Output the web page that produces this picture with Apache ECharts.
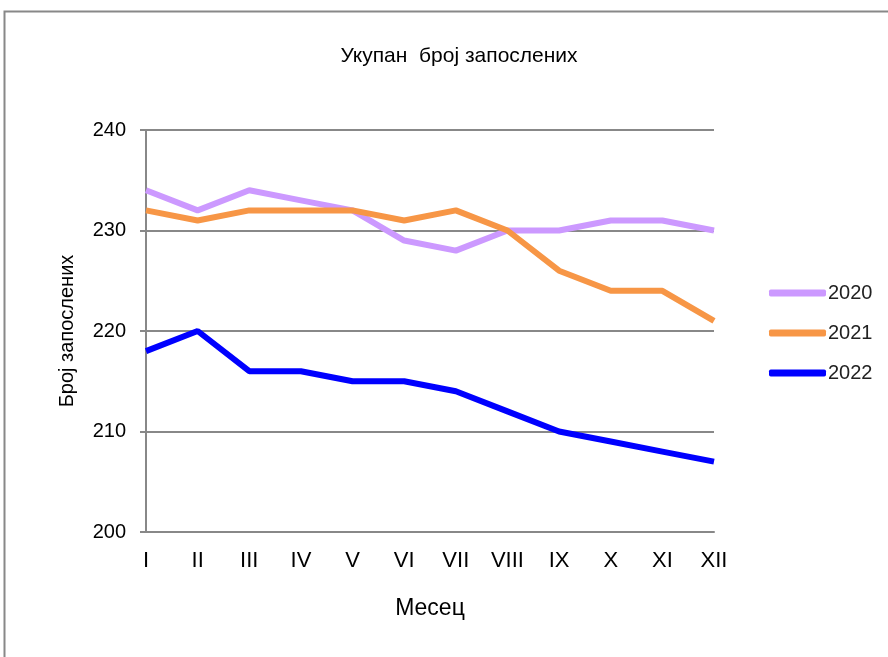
<!DOCTYPE html>
<html>
<head>
<meta charset="utf-8">
<script src="https://cdn.jsdelivr.net/npm/echarts@6/dist/echarts.min.js"></script>
<style>
  html, body { margin: 0; padding: 0; background: #fff; }
  #chart { width: 888px; height: 657px; }
</style>
</head>
<body>
<div id="chart"></div>
<script>
const months = ['I', 'II', 'III', 'IV', 'V', 'VI', 'VII', 'VIII', 'IX', 'X', 'XI', 'XII'];
const years = ['2020', '2021', '2022'];
const values2020 = [234, 232, 234, 233, 232, 229, 228, 230, 230, 231, 231, 230];
const values2021 = [232, 231, 232, 232, 232, 231, 232, 230, 226, 224, 224, 221];
const values2022 = [218, 220, 216, 216, 215, 215, 214, 212, 210, 209, 208, 207];
const colors = ['#cc99ff', '#f79646', '#0000ff'];

const font = '"Liberation Sans", Arial, sans-serif';
const chart = echarts.init(document.getElementById('chart'));

const seriesData = [values2020, values2021, values2022];

chart.setOption({
  animation: false,
  textStyle: { fontFamily: font },
  title: {
    text: 'Укупан  број запослених',
    left: 454,
    top: 41,
    textAlign: 'center',
    textStyle: { fontFamily: font, fontSize: 21, fontWeight: 'normal', color: '#000' }
  },
  graphic: [{
    type: 'rect',
    shape: { x: 4.5, y: 11.5, width: 900, height: 700 },
    style: { fill: 'none', stroke: '#888', lineWidth: 2 },
    silent: true
  }],
  legend: {
    orient: 'vertical',
    left: 764,
    top: 278,
    icon: 'roundRect',
    itemWidth: 57,
    itemHeight: 7,
    itemGap: 20,
    textStyle: { fontFamily: font, fontSize: 20, color: '#222', lineHeight: 20, padding: [0, 0, 0, -3] },
    data: years
  },
  grid: { left: 146, right: 174, top: 130, bottom: 125 },
  xAxis: {
    type: 'category',
    data: months,
    boundaryGap: false,
    name: 'Месец',
    nameLocation: 'middle',
    nameGap: 65,
    nameTextStyle: { fontFamily: font, fontSize: 23, color: '#000' },
    axisLine: { lineStyle: { color: '#888', width: 2 } },
    axisTick: { show: false },
    axisLabel: { margin: 18, fontFamily: font, fontSize: 22, color: '#000' },
    splitLine: { show: false }
  },
  yAxis: {
    type: 'value',
    min: 200,
    max: 240,
    interval: 10,
    name: 'Број запослених',
    nameLocation: 'middle',
    nameGap: 69,
    nameTextStyle: { fontFamily: font, fontSize: 20, color: '#000' },
    axisLine: { show: true, lineStyle: { color: '#888', width: 2 } },
    axisTick: { show: true, length: 6, lineStyle: { color: '#888', width: 2 } },
    axisLabel: { margin: 20, fontFamily: font, fontSize: 20, color: '#000' },
    splitLine: { lineStyle: { color: '#888', width: 2 } }
  },
  series: years.map((y, i) => ({
    name: y,
    type: 'line',
    data: seriesData[i],
    color: colors[i],
    symbol: 'none',
    lineStyle: { width: 6, color: colors[i] },
    z: 2 + i
  }))
});
</script>
</body>
</html>
